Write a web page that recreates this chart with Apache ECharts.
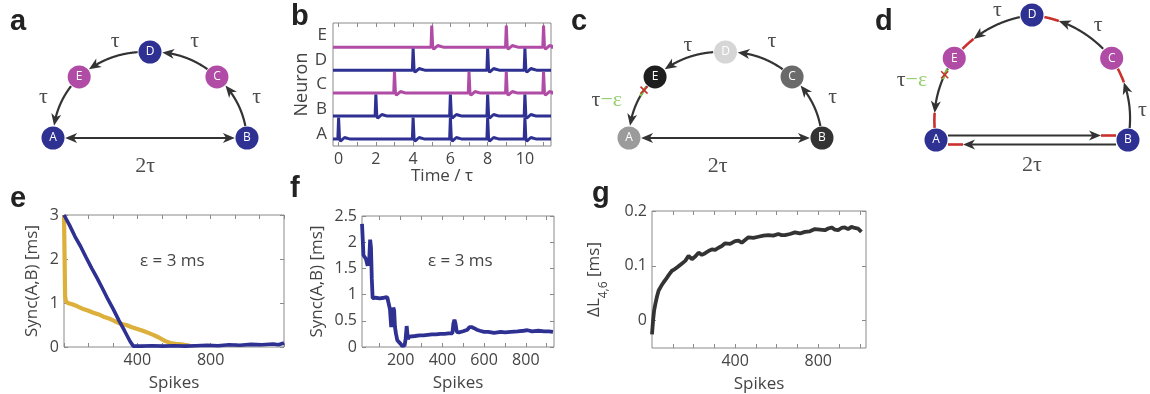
<!DOCTYPE html>
<html><head><meta charset="utf-8">
<script src="https://cdn.jsdelivr.net/npm/echarts@6/dist/echarts.min.js"></script>
<style>html,body{margin:0;padding:0;background:#fff}#c{width:1150px;height:394px}</style>
</head><body><div id="c"></div><script>
// ---------------- DATA ----------------
// Panel b: spike raster traces (time in units of tau)
const neuronNames = ['A', 'B', 'C', 'D', 'E'];
const spikesA = [0, 4, 6, 8, 10];
const spikesB = [2, 6, 8, 10];
const spikesC = [3, 7, 9, 11];
const spikesD = [4, 8, 10];
const spikesE = [5, 9, 11];
// spike waveform (offset in tau, amplitude in row units)
const spikeShapeDt = [-0.04, 0.0, 0.05, 0.1, 0.18, 0.32, 0.45, 0.62];
const spikeShapeDv = [0, 0.94, 0.02, -0.09, -0.06, 0.07, 0.04, 0];
const timeTicks = [0, 1, 2, 3, 4, 5, 6, 7, 8, 9, 10, 11];
const timeLabels = [0, 2, 4, 6, 8, 10];

// Panel e
const eBlueX = [0, 30, 60, 90, 120, 150, 180, 210, 240, 270, 300, 330, 360, 378, 420, 480, 540, 600, 660, 720, 780, 840, 900, 960, 1020, 1080, 1140, 1170, 1200];
const eBlueY = [3.0, 2.77, 2.51, 2.29, 2.04, 1.8, 1.57, 1.33, 1.08, 0.85, 0.6, 0.37, 0.13, 0.02, 0.02, 0.03, 0.02, 0.03, 0.02, 0.03, 0.04, 0.03, 0.05, 0.04, 0.06, 0.05, 0.07, 0.05, 0.09];
const eGoldX = [0, 3, 6, 10, 20, 45, 70, 100, 130, 160, 190, 220, 250, 280, 310, 340, 370, 400, 430, 460, 490, 520, 550, 580, 610, 640, 670, 685];
const eGoldY = [3.0, 2.1, 1.15, 1.05, 1.0, 0.97, 0.93, 0.87, 0.83, 0.78, 0.74, 0.68, 0.64, 0.58, 0.53, 0.5, 0.45, 0.41, 0.37, 0.32, 0.27, 0.21, 0.14, 0.09, 0.07, 0.06, 0.04, 0.04];
const eYTicks = [0, 1, 2, 3];

// Panel f
const fX = [15, 18, 22, 28, 34, 38, 42, 46, 50, 54, 58, 62, 66, 70, 80, 100, 120, 136, 144, 149, 155, 160, 165, 169, 173, 178, 184, 192, 200, 208, 213, 219, 224, 229, 235, 242, 250, 270, 290, 310, 330, 350, 370, 390, 410, 430, 448, 453, 458, 463, 469, 480, 500, 520, 530, 540, 552, 565, 580, 600, 620, 648, 680, 700, 728, 760, 790, 808, 830, 860, 888, 910, 930];
const fY = [2.35, 2.1, 1.75, 1.72, 1.68, 1.7, 1.55, 1.65, 1.7, 2.05, 1.9, 1.3, 0.93, 0.9, 0.94, 0.93, 0.94, 0.95, 0.97, 0.72, 0.38, 0.6, 0.75, 0.7, 0.38, 0.25, 0.13, 0.1, 0.06, 0.02, 0.0, 0.03, 0.15, 0.4, 0.15, 0.2, 0.19, 0.21, 0.22, 0.22, 0.23, 0.24, 0.24, 0.25, 0.25, 0.26, 0.26, 0.45, 0.52, 0.45, 0.29, 0.28, 0.3, 0.33, 0.38, 0.38, 0.36, 0.33, 0.31, 0.29, 0.29, 0.27, 0.29, 0.28, 0.29, 0.3, 0.31, 0.32, 0.3, 0.31, 0.3, 0.3, 0.29];
const fYTicks = [0, 0.5, 1, 1.5, 2, 2.5];
const fXLabels = [200, 400, 600, 800];

// Panel g
const gX = [0, 5, 10, 16, 24, 32, 44, 56, 68, 80, 96, 110, 120, 140, 160, 176, 192, 208, 224, 240, 256, 272, 288, 304, 320, 336, 352, 376, 400, 416, 432, 448, 464, 488, 512, 536, 560, 584, 608, 624, 640, 664, 688, 712, 736, 760, 784, 808, 832, 848, 864, 880, 896, 912, 928, 944, 960, 976, 992, 1000, 1008];
const gY = [-0.025, 0.0, 0.018, 0.03, 0.044, 0.055, 0.063, 0.07, 0.076, 0.083, 0.091, 0.094, 0.097, 0.103, 0.109, 0.118, 0.112, 0.117, 0.124, 0.12, 0.123, 0.127, 0.13, 0.129, 0.133, 0.136, 0.141, 0.14, 0.145, 0.146, 0.142, 0.147, 0.152, 0.151, 0.153, 0.155, 0.156, 0.155, 0.158, 0.156, 0.156, 0.158, 0.161, 0.159, 0.162, 0.163, 0.167, 0.166, 0.165, 0.168, 0.17, 0.166, 0.165, 0.169, 0.17, 0.167, 0.171, 0.169, 0.168, 0.166, 0.162];
const gYTicks = [0, 0.1, 0.2];
const spikeLabels = [400, 800];

// Diagrams: directed edges of the ring
const ringEdges = [['B', 'C'], ['C', 'D'], ['D', 'E'], ['E', 'A']];

// ---------------- LAYOUT / STYLE ----------------
const BLUE = '#2E3192', MAGENTA = '#B04CA6', GOLD = '#DDB03C', DARK = '#333333';
const RED = '#C8312C', GREEN = '#7BC24A';
const FONT = 'Open Sans';
const TEXTC = '#444';
// node positions in a normalised half-ellipse frame (x in [-1,1], y in [0,1])
const diagA = { x: [-1, 1, 0.69, 0, -0.73], y: [0, 0, 0.71, 1, 0.71],
  colors: [BLUE, BLUE, MAGENTA, BLUE, MAGENTA] };
const diagC = { x: [-1, 1, 0.69, 0, -0.73], y: [0, 0, 0.71, 1, 0.71],
  colors: ['#9B9B9B', '#333333', '#6A6A6A', '#D6D6D6', '#1E1E1E'] };
const diagD = { x: [-1, 1, 0.83, 0, -0.81], y: [0, 0, 0.655, 1, 0.655],
  colors: [BLUE, BLUE, MAGENTA, BLUE, MAGENTA] };
const NODE_R = 11;

function traceFor(row, spikes) {
  const pts = [[-0.3, row]];
  spikes.forEach(t => {
    for (let k = 0; k < spikeShapeDt.length; k++) pts.push([t + spikeShapeDt[k], row + spikeShapeDv[k]]);
  });
  pts.push([11.4, row]);
  return pts;
}
const zip = (xs, ys) => xs.map((x, i) => [x, ys[i]]);

// ---------- diagram edge drawing ----------
function dist(a, b) { return Math.hypot(a[0] - b[0], a[1] - b[1]); }
function cumLen(pts) { const c = [0]; for (let i = 1; i < pts.length; i++) c.push(c[i - 1] + dist(pts[i], pts[i - 1])); return c; }
function pointAt(pts, cl, s) {
  if (s <= 0) return { p: pts[0], i: 0 };
  for (let i = 1; i < pts.length; i++) {
    if (cl[i] >= s) {
      const f = (s - cl[i - 1]) / (cl[i] - cl[i - 1] || 1);
      return { p: [pts[i - 1][0] + f * (pts[i][0] - pts[i - 1][0]), pts[i - 1][1] + f * (pts[i][1] - pts[i - 1][1])], i: i };
    }
  }
  return { p: pts[pts.length - 1], i: pts.length - 1 };
}
function subPath(pts, cl, s0, s1) {
  const a = pointAt(pts, cl, s0), b = pointAt(pts, cl, s1);
  const out = [a.p];
  for (let i = a.i; i < b.i; i++) if (cl[i] > s0 && cl[i] < s1) out.push(pts[i]);
  out.push(b.p);
  return out;
}
function arrowHead(tip, from, L, W) {
  const v = [tip[0] - from[0], tip[1] - from[1]]; const n = Math.hypot(v[0], v[1]) || 1;
  v[0] /= n; v[1] /= n; const w = [-v[1], v[0]];
  return { type: 'polygon', shape: { points: [
    tip,
    [tip[0] - v[0] * L + w[0] * W / 2, tip[1] - v[1] * L + w[1] * W / 2],
    [tip[0] - v[0] * L * 0.72, tip[1] - v[1] * L * 0.72],
    [tip[0] - v[0] * L - w[0] * W / 2, tip[1] - v[1] * L - w[1] * W / 2]] },
    style: { fill: DARK } };
}
function makeEdgeRenderer(diag, edges) {
  return function (params, api) {
    const ed = edges[params.dataIndex];
    const i = neuronNames.indexOf(ed.from), j = neuronNames.indexOf(ed.to);
    const Pc = api.coord([diag.x[i], diag.y[i]]), Qc = api.coord([diag.x[j], diag.y[j]]);
    const O = api.coord([0, 0]);
    const off = ed.offset || 0;
    const P = [Pc[0], Pc[1] + off], Q = [Qc[0], Qc[1] + off];
    const len = dist(P, Q);
    let n = [-(Q[1] - P[1]) / len, (Q[0] - P[0]) / len];
    const M = [(P[0] + Q[0]) / 2, (P[1] + Q[1]) / 2];
    if ((M[0] - O[0]) * n[0] + (M[1] - O[1]) * n[1] < 0) n = [-n[0], -n[1]];
    const bulge = ed.bulge || 0;
    const C = [M[0] + n[0] * bulge * len, M[1] + n[1] * bulge * len];
    let pts = [];
    for (let k = 0; k <= 160; k++) {
      const t = k / 160, a = (1 - t) * (1 - t), b = 2 * (1 - t) * t, c = t * t;
      pts.push([a * P[0] + b * C[0] + c * Q[0], a * P[1] + b * C[1] + c * Q[1]]);
    }
    const r = NODE_R + 1;
    pts = pts.filter(p => dist(p, Pc) >= r && dist(p, Qc) >= r);
    const cl = cumLen(pts), total = cl[cl.length - 1];
    const L = 12, W = 10;
    const children = [];
    let s0 = 0, s1 = total;
    const redLen = ed.red ? 15 : 0;
    const tipS = total - redLen;
    const tip = pointAt(pts, cl, tipS).p, tipBack = pointAt(pts, cl, tipS - 6).p;
    children.push(arrowHead(tip, tipBack, L, W));
    s1 = tipS - L * 0.6;
    if (ed.both) {
      const t2 = pointAt(pts, cl, 0).p, t2b = pointAt(pts, cl, 6).p;
      children.push(arrowHead(t2, t2b, L, W));
      s0 = L * 0.6;
    }
    children.unshift({ type: 'polyline', shape: { points: subPath(pts, cl, s0, s1) },
      style: { stroke: DARK, lineWidth: 2.2, fill: null } });
    if (redLen) {
      children.push({ type: 'polyline', shape: { points: subPath(pts, cl, total - redLen, total) },
        style: { stroke: RED, lineWidth: 2.6, fill: null } });
    }
    if (ed.cross) {
      children.push({ type: 'polyline', shape: { points: subPath(pts, cl, 1, 12) },
        style: { stroke: GREEN, lineWidth: 2.6, fill: null } });
      const cp = pointAt(pts, cl, ed.cross).p;
      const s = 3.5;
      children.push({ type: 'line', shape: { x1: cp[0] - s, y1: cp[1] - s, x2: cp[0] + s, y2: cp[1] + s }, style: { stroke: RED, lineWidth: 1.6 } });
      children.push({ type: 'line', shape: { x1: cp[0] - s, y1: cp[1] + s, x2: cp[0] + s, y2: cp[1] - s }, style: { stroke: RED, lineWidth: 1.6 } });
    }
    return { type: 'group', children: children };
  };
}

const edgesA = ringEdges.map(e => ({ from: e[0], to: e[1], bulge: 0.2 })).concat([{ from: 'A', to: 'B', both: true }]);
const edgesC = ringEdges.map(e => ({ from: e[0], to: e[1], bulge: 0.2, cross: (e[0] === 'E' ? 5 : 0) })).concat([{ from: 'A', to: 'B', both: true }]);
const edgesD = ringEdges.map(e => ({ from: e[0], to: e[1], bulge: 0.2, red: true, cross: (e[0] === 'E' ? 7 : 0) }))
  .concat([{ from: 'A', to: 'B', offset: -4.5, red: true }, { from: 'B', to: 'A', offset: 4.5, red: true }]);

const SERIF = { color: '#222', fontSize: 22, fontFamily: 'Liberation Serif' };
function diagramSeries(diag, edges, axisIdx, labels) {
  return [
    { type: 'custom', xAxisIndex: axisIdx, yAxisIndex: axisIdx, clip: false, silent: true,
      data: edges.map(() => [0, 0]), renderItem: makeEdgeRenderer(diag, edges), z: 2 },
    { type: 'scatter', xAxisIndex: axisIdx, yAxisIndex: axisIdx, clip: false, z: 3, symbolSize: 2 * NODE_R + 1,
      data: neuronNames.map((nm, k) => ({ value: [diag.x[k], diag.y[k]], name: nm, itemStyle: { color: diag.colors[k], opacity: 1 } })),
      label: { show: true, position: 'inside', formatter: '{b}', color: '#fff', fontSize: 12, fontFamily: FONT } },
    { type: 'scatter', xAxisIndex: axisIdx, yAxisIndex: axisIdx, clip: false, z: 4, symbolSize: 0,
      data: labels.map(l => ({ value: [l[0], l[1]], label: { formatter: l[2] } })),
      label: Object.assign({ show: true, position: 'inside',
        rich: { g: Object.assign({}, SERIF, { color: GREEN }), t: SERIF } }, SERIF) }
  ];
}
const labelsA = [[-0.36, 1.12, 'τ'], [0.46, 1.12, 'τ'], [-1.1, 0.47, 'τ'], [1.1, 0.47, 'τ'], [-0.05, -0.33, '2τ']];
const labelsC = [[-0.39, 1.08, 'τ'], [0.48, 1.12, 'τ'], [-1.23, 0.44, '{t|τ}{g|−ε}'], [1.11, 0.47, 'τ'], [-0.08, -0.33, '2τ']];
const labelsD = [[-0.36, 1.04, 'τ'], [0.69, 0.92, 'τ'], [-1.25, 0.48, '{t|τ}{g|−ε}'], [1.15, 0.24, 'τ'], [0, -0.2, '2τ']];

// ---------------- AXES ----------------
const labelStyle = { color: TEXTC, fontSize: 16, fontFamily: FONT };
const nameStyle = { color: TEXTC, fontSize: 17, fontFamily: FONT };
const tickStyle = { color: '#8a8a8a' };
function boxGrid(l, t, w, h) { return { left: l, top: t, width: w, height: h, show: true, borderColor: '#8a8a8a', borderWidth: 1, backgroundColor: 'transparent' }; }
function xPair(grid, min, max, tickVals, labelVals, name, gap) {
  return [
    { type: 'value', gridIndex: grid, position: 'bottom', min: min, max: max, axisLine: { show: false, onZero: false }, splitLine: { show: false },
      axisTick: { show: true, inside: true, length: 4, customValues: tickVals, lineStyle: tickStyle },
      axisLabel: Object.assign({ customValues: labelVals, margin: 5 }, labelStyle),
      name: name, nameLocation: 'middle', nameGap: gap, nameTextStyle: nameStyle },
    { type: 'value', gridIndex: grid, position: 'top', min: min, max: max, axisLine: { show: false, onZero: false }, splitLine: { show: false },
      axisTick: { show: true, inside: true, length: 4, customValues: tickVals, lineStyle: tickStyle },
      axisLabel: { show: false } }
  ];
}
function yPair(grid, min, max, tickVals, labelVals, name, gap) {
  return [
    { type: 'value', gridIndex: grid, position: 'left', min: min, max: max, axisLine: { show: false, onZero: false }, splitLine: { show: false },
      axisTick: { show: true, inside: true, length: 4, customValues: tickVals, lineStyle: tickStyle },
      axisLabel: Object.assign({ customValues: labelVals, margin: 5 }, labelStyle),
      name: name, nameLocation: 'middle', nameGap: gap, nameRotate: 90, nameTextStyle: nameStyle },
    { type: 'value', gridIndex: grid, position: 'right', min: min, max: max, axisLine: { show: false, onZero: false }, splitLine: { show: false },
      axisTick: { show: true, inside: true, length: 4, customValues: tickVals, lineStyle: tickStyle },
      axisLabel: { show: false } }
  ];
}
const hid = (g, min, max, pos) => ({ type: 'value', gridIndex: g, min: min, max: max, show: false, position: pos, axisLine: { onZero: false } });

const eXTicks = [0, 133.3, 266.7, 400, 533.3, 666.7, 800, 933.3, 1066.7, 1200];
const fXTicks = [100, 200, 300, 400, 500, 600, 700, 800, 900];
const gXTicks = [100, 200, 300, 400, 500, 600, 700, 800, 900, 1000];

const gNameStyle = Object.assign({}, nameStyle, { rich: {
  a: { fontSize: 17, fontFamily: FONT, color: TEXTC, lineHeight: 24, verticalAlign: 'top', padding: [0, 0, 0, 0] },
  s: { fontSize: 12, fontFamily: FONT, color: TEXTC, lineHeight: 24, verticalAlign: 'bottom', padding: [10, 0, 0, 0] } } });

const option = {
  animation: false,
  backgroundColor: '#fff',
  grid: [
    boxGrid(333, 23, 218, 123),   // b
    boxGrid(64, 215, 220, 132),   // e
    boxGrid(362, 216, 192, 131),  // f
    boxGrid(652, 211, 214, 137),  // g
    { left: 53, top: 52, width: 194, height: 86, show: false },  // a
    { left: 629, top: 52, width: 193, height: 86, show: false }, // c
    { left: 936, top: 15, width: 192, height: 125, show: false } // d
  ],
  xAxis: [].concat(
    xPair(0, -0.3, 11.4, timeTicks, timeLabels, 'Time / τ', 22),
    xPair(1, 0, 1200, eXTicks, spikeLabels, 'Spikes', 28),
    xPair(2, 15, 935, fXTicks, fXLabels, 'Spikes', 28),
    xPair(3, 0, 1030, gXTicks, spikeLabels, 'Spikes', 28),
    [hid(4, -1, 1, 'bottom'), hid(5, -1, 1, 'bottom'), hid(6, -1, 1, 'bottom')]
  ),
  yAxis: [].concat(
    [hid(0, -0.3, 5.05, 'right'),
     { type: 'category', gridIndex: 0, position: 'left', data: neuronNames, axisLine: { show: false, onZero: false }, axisTick: { show: false },
       axisLabel: Object.assign({ margin: 6 }, labelStyle, { fontSize: 17 }), name: 'Neuron', nameLocation: 'middle', nameGap: 20, nameRotate: 90,
       nameTextStyle: Object.assign({}, nameStyle, { fontSize: 18 }) }],
    yPair(1, 0, 3, eYTicks, eYTicks, 'Sync(A,B) [ms]', 23),
    yPair(2, 0, 2.5, fYTicks, fYTicks, 'Sync(A,B) [ms]', 36),
    yPair(3, -0.05, 0.2, gYTicks, gYTicks, '{a|ΔL}{s|4,6}{a| [ms]}', 42),
    [hid(4, 0, 1, 'left'), hid(5, 0, 1, 'left'), hid(6, 0, 1, 'left')]
  ),
  series: [].concat(
    [spikesA, spikesB, spikesC, spikesD, spikesE].map((sp, r) => ({
      type: 'line', xAxisIndex: 0, yAxisIndex: 0, data: traceFor(r, sp), showSymbol: false, z: 5 - r,
      lineStyle: { color: (r === 2 || r === 4) ? MAGENTA : BLUE, width: 3 } })),
    [
      { type: 'line', xAxisIndex: 2, yAxisIndex: 2, data: zip(eGoldX, eGoldY), showSymbol: false, lineStyle: { color: GOLD, width: 4.2 } },
      { type: 'line', xAxisIndex: 2, yAxisIndex: 2, data: zip(eBlueX, eBlueY), showSymbol: false, lineStyle: { color: BLUE, width: 3.6 } },
      { type: 'line', xAxisIndex: 4, yAxisIndex: 4, data: zip(fX, fY), showSymbol: false, lineStyle: { color: BLUE, width: 3.8 } },
      { type: 'line', xAxisIndex: 6, yAxisIndex: 6, data: zip(gX, gY), showSymbol: false, lineStyle: { color: DARK, width: 3.8 } }
    ],
    diagramSeries(diagA, edgesA, 8, labelsA),
    diagramSeries(diagC, edgesC, 9, labelsC),
    diagramSeries(diagD, edgesD, 10, labelsD)
  ),
  graphic: [
    ['a', 10, 33], ['b', 291, 28], ['c', 571, 33], ['d', 875, 33], ['e', 10, 210], ['f', 290, 200], ['g', 592, 205]
  ].map(l => ({ type: 'text', left: l[1], top: l[2] - 26, style: { text: l[0], fontSize: 29, fontWeight: 'bold', fontFamily: 'Liberation Sans', fill: '#222' } }))
  .concat([
    { type: 'text', left: 140, top: 253, style: { text: 'ε = 3 ms', fontSize: 17, fontFamily: FONT, fill: TEXTC } },
    { type: 'text', left: 428, top: 253, style: { text: 'ε = 3 ms', fontSize: 17, fontFamily: FONT, fill: TEXTC } }
  ])
};
option.yAxis[6].nameTextStyle = gNameStyle;
const chart = echarts.init(document.getElementById('c'));
chart.setOption(option);
</script></body></html>
